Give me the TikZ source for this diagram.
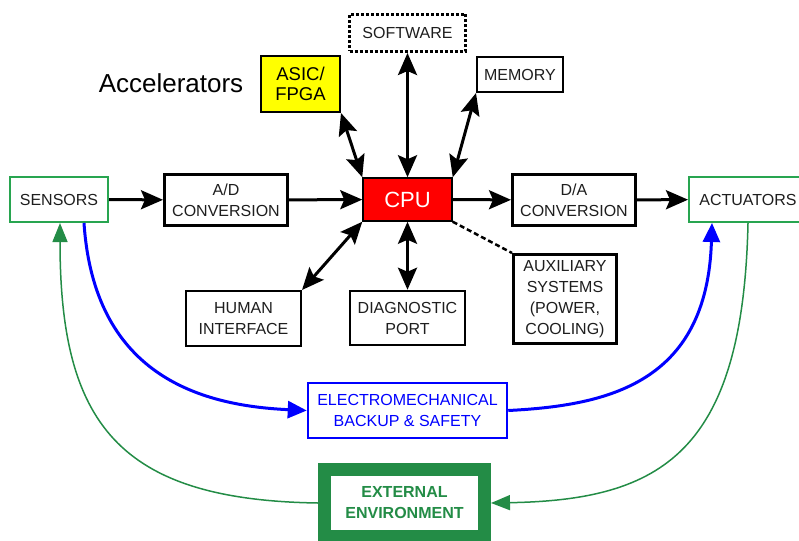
\documentclass[tikz,border=0pt]{standalone}
\usepackage{fontspec}
\setmainfont{Liberation Sans}
\usetikzlibrary{arrows.meta}
\definecolor{edgegreen}{RGB}{40,165,80}
\definecolor{envgreen}{RGB}{35,140,70}
\definecolor{cpured}{RGB}{255,0,0}
\definecolor{asicyellow}{RGB}{255,255,0}
\definecolor{backupblue}{RGB}{0,0,255}
\definecolor{labelgray}{RGB}{30,30,30}

\begin{document}
\begin{tikzpicture}[x=1pt,y=-1pt,
  box/.style={draw, fill=white, align=center, inner sep=0pt,
    font=\fontsize{16}{21}\selectfont, text=labelgray},
  thickbox/.style={box, line width=3pt},
  thinbox/.style={box, line width=2pt},
  greenbox/.style={box, draw=edgegreen, line width=2pt},
  flow/.style={line width=3pt, -{Stealth[length=22pt,width=19pt,inset=4pt]}},
  both/.style={line width=3pt, {Stealth[length=22pt,width=19pt,inset=4pt]}-{Stealth[length=22pt,width=19pt,inset=4pt]}},
  bluelink/.style={draw=backupblue, line width=3pt, -{Triangle[length=19pt,width=17pt]}},
  greenlink/.style={draw=envgreen, line width=1.5pt, -{Triangle[length=19pt,width=15pt]}}
]
\useasboundingbox (0,0) rectangle (799,540);
\clip (0,0) rectangle (799,540);

% main signal chain
\node[greenbox, minimum width=98pt, minimum height=45pt] (sensors) at (59,199.5) {SENSORS};
\node[thickbox, minimum width=123pt, minimum height=51pt] (ad) at (226,200) {A/D\\CONVERSION};
\node[draw=black, fill=cpured, line width=1.5pt, inner sep=0pt,
      minimum width=89pt, minimum height=43pt, text=white,
      font=\fontsize{22}{24}\selectfont] (cpu) at (407.5,199.5) {CPU};
\node[thickbox, minimum width=123pt, minimum height=51pt] (da) at (574,200) {D/A\\CONVERSION};
\node[greenbox, minimum width=118pt, minimum height=45pt] (act) at (748,199.5) {ACTUATORS};

% units around the CPU
\node[box, line width=3pt, dash pattern=on 3pt off 2pt,
      minimum width=116pt, minimum height=37pt] (soft) at (407.5,33) {SOFTWARE};
\node[box, fill=asicyellow, line width=2pt, text=black,
      font=\fontsize{18.5}{20}\selectfont,
      minimum width=79pt, minimum height=56pt] (asic) at (300.5,84) {ASIC/\\FPGA};
\node[thinbox, minimum width=86pt, minimum height=35pt] (mem) at (520,74.5) {MEMORY};
\node[thinbox, minimum width=115pt, minimum height=55pt] (human) at (243.5,318.5) {HUMAN\\INTERFACE};
\node[box, line width=2.5pt, minimum width=115pt, minimum height=54pt] (diag) at (407.5,318) {DIAGNOSTIC\\PORT};
\node[thickbox, minimum width=103pt, minimum height=89pt] (aux) at (565,299) {AUXILIARY\\SYSTEMS\\(POWER,\\COOLING)};

\node[font=\fontsize{26}{30}\selectfont, inner sep=0pt] (accel) at (171,83) {Accelerators};

% backup and environment
\node[box, draw=backupblue, line width=2.5pt, text=backupblue,
      minimum width=199pt, minimum height=55pt] (emb) at (407.5,410.5) {ELECTROMECHANICAL\\BACKUP \& SAFETY};
\node[box, draw=envgreen, line width=13pt, text=envgreen,
      font=\bfseries\fontsize{16}{21}\selectfont,
      minimum width=160pt, minimum height=67pt] (ext) at (404.5,503) {EXTERNAL\\ENVIRONMENT};
% the environment frame continues below the lower edge
\fill[envgreen] (ext.south west) rectangle ([yshift=-10pt]ext.south east);

% signal flow
\draw[flow] (sensors) -- (ad);
\draw[flow] (ad) -- (cpu);
\draw[flow] (cpu) -- (da);
\draw[flow] (da) -- (act);

% CPU links
\draw[both] (soft.south) -- (cpu.north);
\draw[both] (asic.south east) -- (cpu.north west);
\draw[both] (mem.south west) -- (cpu.north east);
\draw[both] (human.north east) -- (cpu.south west);
\draw[both] (diag.north) -- (cpu.south);
\draw[line width=2.5pt, dash pattern=on 5pt off 3pt] (cpu.south east) -- (aux.north west);

% backup path
\draw[bluelink] ([xshift=25pt]sensors.south) .. controls +(10,150) and +(-110,-5) .. (emb.west);
\draw[bluelink] (emb.east) .. controls +(100,-5) and +(-5,160) .. ([xshift=-36pt]act.south);

% environment loop
\draw[greenlink] (act.south) .. controls +(-5,230) and +(170,-3) .. (ext.east);
\draw[greenlink] (ext.west) .. controls +(-200,-3) and +(0,200) .. ([xshift=1pt]sensors.south);
\end{tikzpicture}
\end{document}
